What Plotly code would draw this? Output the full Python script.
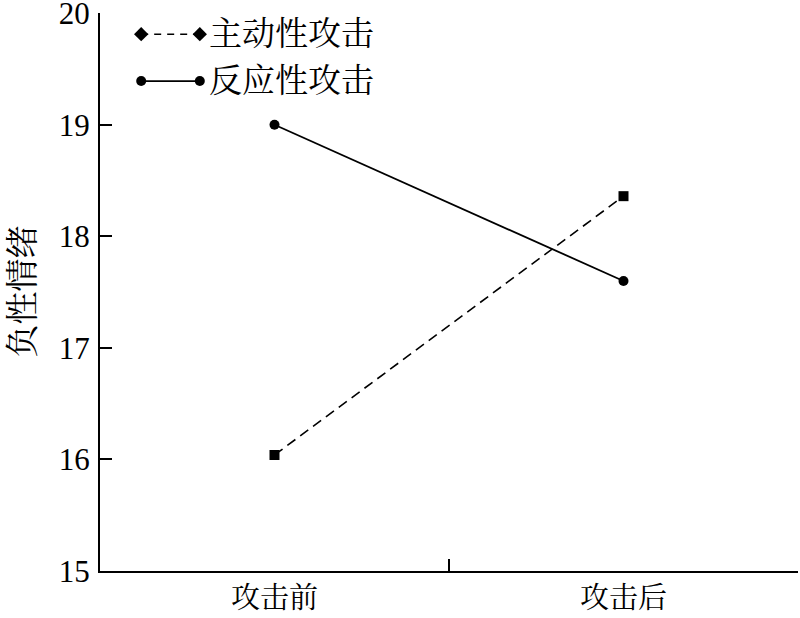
import plotly.graph_objects as go

categories = ["攻击前", "攻击后"]
proactive = [16.04, 18.36]
reactive = [19.0, 17.6]
series_names = ["主动性攻击", "反应性攻击"]
y_ticks = [15, 16, 17, 18, 19, 20]
y_title = "负性情绪"

FONT = "'Liberation Serif', 'Times New Roman', 'Noto Serif CJK SC', 'Noto Sans CJK SC', serif"

fig = go.Figure()
fig.add_trace(go.Scatter(
    x=categories, y=proactive, mode="lines+markers", name=series_names[0],
    line=dict(color="black", width=1.6, dash="10px,6px"),
    marker=dict(symbol="square", size=10, color="black"), showlegend=False))
fig.add_trace(go.Scatter(
    x=categories, y=reactive, mode="lines+markers", name=series_names[1],
    line=dict(color="black", width=1.8),
    marker=dict(symbol="circle", size=10, color="black"), showlegend=False))

# custom legend (markers at both ends of the sample line)
leg_x = [0.059, 0.143]
leg_y = [0.962, 0.878]
fig.add_trace(go.Scatter(x=leg_x, y=[leg_y[0]] * 2, xaxis="x2", yaxis="y2",
                         mode="lines+markers", showlegend=False, hoverinfo="skip",
                         line=dict(color="black", width=1.6, dash="7px,6px"),
                         marker=dict(symbol="diamond", size=11, color="black")))
fig.add_trace(go.Scatter(x=leg_x, y=[leg_y[1]] * 2, xaxis="x2", yaxis="y2",
                         mode="lines+markers", showlegend=False, hoverinfo="skip",
                         line=dict(color="black", width=1.8),
                         marker=dict(symbol="circle", size=10, color="black")))
for name, yy in zip(series_names, leg_y):
    fig.add_annotation(x=0.154, y=yy, xref="paper", yref="paper", text=name,
                       showarrow=False, xanchor="left", yanchor="middle",
                       font=dict(family=FONT, size=33, color="black"))

fig.add_annotation(x=-0.111, y=0.5, xref="paper", yref="paper", text=y_title,
                   textangle=-90, showarrow=False, xanchor="center", yanchor="middle",
                   font=dict(family=FONT, size=33, color="black"))

fig.update_layout(
    width=800, height=618,
    margin=dict(l=100, r=2, t=13, b=47, autoexpand=False),
    plot_bgcolor="white", paper_bgcolor="white",
    font=dict(family=FONT, color="black"),
    xaxis=dict(type="category", range=[-0.5, 1.5], tickson="boundaries",
               ticks="inside", ticklen=12, tickwidth=1.5, tickcolor="black",
               showline=True, linecolor="black", linewidth=2, showgrid=False,
               zeroline=False, automargin=False,
               tickfont=dict(family=FONT, size=29), ticklabelstandoff=0),
    yaxis=dict(range=[15, 20.002], tickvals=y_ticks, ticks="inside", ticklen=12,
               tickwidth=1.5, tickcolor="black", showline=True, linecolor="black",
               linewidth=2, showgrid=False, zeroline=False, automargin=False,
               ticklabeloverflow="allow", ticklabelstandoff=2,
               tickfont=dict(family=FONT, size=31)),
    xaxis2=dict(range=[0, 1], overlaying="x", visible=False, fixedrange=True),
    yaxis2=dict(range=[0, 1], overlaying="y", visible=False, fixedrange=True),
)

fig.write_html("out.html", config={"displayModeBar": False},
               post_script="document.body.style.margin='0px';")
